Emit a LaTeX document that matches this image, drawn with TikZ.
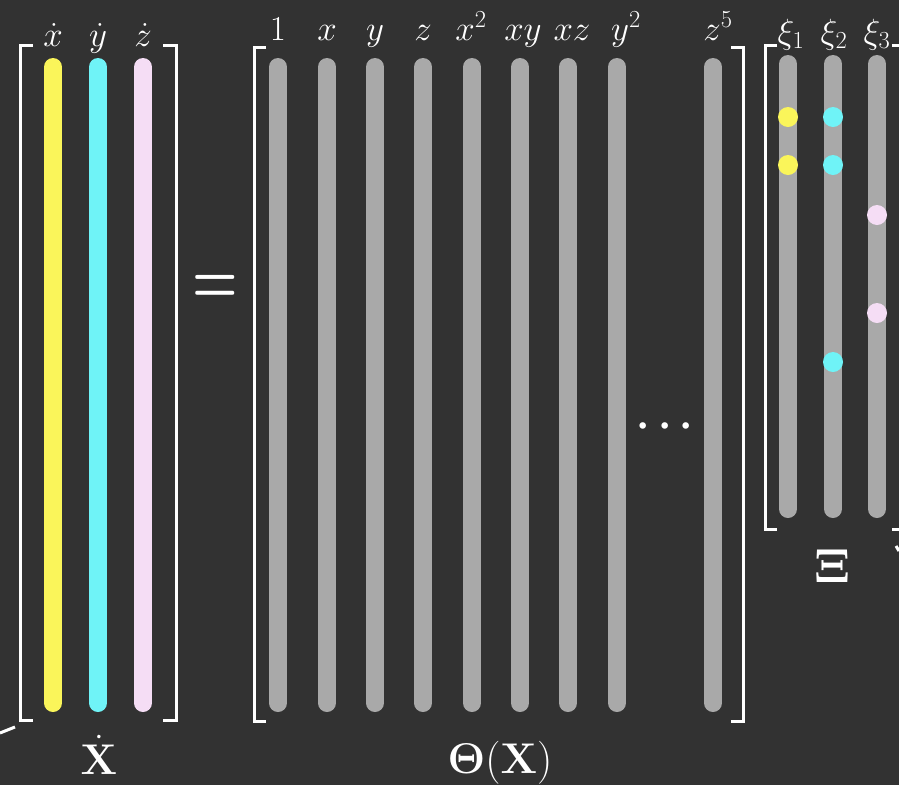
\documentclass[tikz,border=0pt]{standalone}
\usepackage{fix-cm}
\usepackage{amsmath}
\usepackage{graphicx}
\definecolor{bg}{HTML}{323232}
\definecolor{colgray}{HTML}{A9A9A9}
\definecolor{colyellow}{HTML}{FAF55A}
\definecolor{colcyan}{HTML}{6FF3F7}
\definecolor{colpink}{HTML}{F5DDF5}
\begin{document}
\begin{tikzpicture}[x=1pt,y=-1pt,
  bar/.style={line width=18pt, line cap=round},
  brk/.style={draw=white, line width=3pt},
  lbl/.style={text=white, font=\fontsize{35}{40}\selectfont, anchor=base, inner sep=0pt},
  biglbl/.style={text=white, font=\fontsize{43}{48}\selectfont, anchor=base, inner sep=0pt},
  coef/.style={circle, inner sep=0pt, minimum size=20pt}]
\fill[bg] (0,0) rectangle (899,785);
\useasboundingbox (0,0) rectangle (899,785);
\clip (0,0) rectangle (899,785);

% time derivatives
\draw[bar, colyellow] (53,67) -- (53,703);
\draw[bar, colcyan]   (98,67) -- (98,703);
\draw[bar, colpink]   (143,67) -- (143,703);
\draw[brk] (33,45) -- (20,45) -- (20,720) -- (33,720);
\draw[brk] (163,45) -- (176,45) -- (176,720) -- (163,720);
\node[lbl] (hx) at (53,46) {$\dot x$};
\node[lbl] (hy) at (98,46) {$\dot y$};
\node[lbl] (hz) at (143,46) {$\dot z$};
\node[biglbl] (Xd) at (99,774) {$\dot{\mathbf{X}}$};

% equals sign
\node[text=white, font=\fontsize{52}{56}\selectfont, inner sep=0pt] (eq) at (215,289)
  {\scalebox{1}[1.4]{$\boldsymbol{=}$}};

% library of candidate functions
\foreach \px in {278,327,375,423,472,520,568,617,713}
  \draw[bar, colgray] (\px,67) -- (\px,703);
\draw[brk] (266,47) -- (254,47) -- (254,721) -- (266,721);
\draw[brk] (731,47) -- (743,47) -- (743,721) -- (731,721);
\node[lbl] (t1)  at (278,40) {$1$};
\node[lbl] (t2)  at (327,40) {$x$};
\node[lbl] (t3)  at (375,40) {$y$};
\node[lbl] (t4)  at (423,40) {$z$};
\node[lbl] (t5)  at (471,40) {$x^2$};
\node[lbl] (t6)  at (523,40) {$xy$};
\node[lbl] (t7)  at (572,40) {$xz$};
\node[lbl] (t8)  at (626,40) {$y^2$};
\node[lbl] (t9)  at (718,40) {$z^5$};
\node[text=white, font=\fontsize{42}{46}\selectfont, anchor=base, inner sep=0pt] (dots) at (669,436) {$\boldsymbol{\cdots}$};
\node[biglbl] (Th) at (500,773) {$\mathbf{\Theta}(\mathbf{X})$};

% sparse coefficients
\foreach \px in {788,833,877}
  \draw[bar, colgray] (\px,64) -- (\px,509);
\draw[brk] (777,45) -- (765,45) -- (765,529) -- (777,529);
\draw[brk] (892,45) -- (904,45) -- (904,529) -- (892,529);
\node[lbl] (k1) at (791,43) {$\xi_1$};
\node[lbl] (k2) at (834,43) {$\xi_2$};
\node[lbl] (k3) at (877,43) {$\xi_3$};
\node[coef, fill=colyellow] (a1) at (788,117) {};
\node[coef, fill=colyellow] (a2) at (788,165) {};
\node[coef, fill=colcyan]   (b1) at (833,117) {};
\node[coef, fill=colcyan]   (b2) at (833,165) {};
\node[coef, fill=colcyan]   (b3) at (833,362) {};
\node[coef, fill=colpink]   (c1) at (877,215) {};
\node[coef, fill=colpink]   (c2) at (877,313) {};
\node[text=white, font=\fontsize{48}{52}\selectfont, anchor=base, inner sep=0pt] (Xi) at (832,582) {$\mathbf{\Xi}$};

% cut-off strokes at the edges
\coordinate (e1) at (0,733);
\coordinate (e2) at (15,727);
\draw[white, line width=3pt] (e1) -- (e2);
\coordinate (e3) at (896,546);
\coordinate (e4) at (899,551);
\draw[white, line width=3pt] (e3) -- (e4);
\end{tikzpicture}
\end{document}
